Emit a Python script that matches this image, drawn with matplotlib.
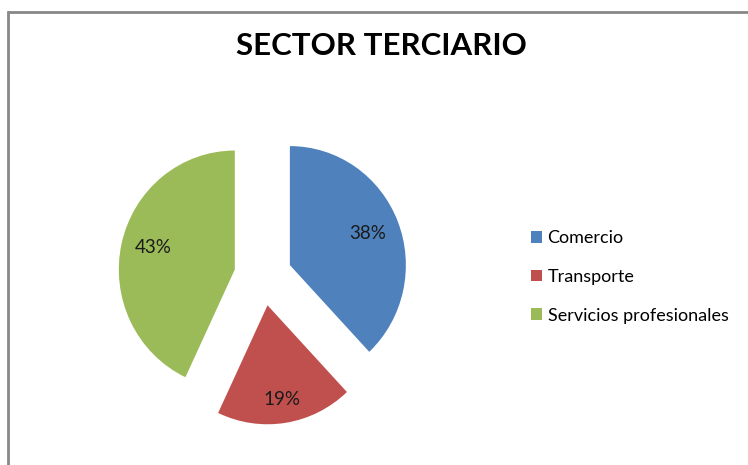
import matplotlib.pyplot as plt
from matplotlib.patches import Rectangle

categories = ['Comercio', 'Transporte', 'Servicios profesionales']
shares = [38, 19, 43]
colors = ['#4F81BD', '#C0504D', '#9BBB59']
title = 'SECTOR TERCIARIO'

W, H = 748, 465
fig = plt.figure(figsize=(W / 100, H / 100), dpi=100)
font = ['Lato', 'DejaVu Sans']

# chart frame (runs off the right and bottom of the picture)
fig.patches.append(Rectangle((8 / W, -0.1), 1.2, (H - 12) / H + 0.1,
                             transform=fig.transFigure, fill=False,
                             edgecolor='#888888', linewidth=2))

# pie axes: centre at (263, 276) px; the original is a touch taller than wide
cx, cy, box = 263, 276, 300
ax = fig.add_axes([(cx - box / 2) / W, (H - cy - box / 2) / H, box / W, box / H])

wedges, texts, autotexts = ax.pie(
    shares, colors=colors, startangle=90, counterclock=False,
    explode=[0.249] * 3, autopct='%1.0f%%', pctdistance=0.72,
    textprops=dict(family=font, fontsize=13.5, color='#1a1a1a'))
# Excel puts the small slice's label a bit further out
x, y = autotexts[1].get_position()
autotexts[1].set_position((x * 1.08, y * 1.08))
x, y = autotexts[2].get_position()
autotexts[2].set_position((x, y + 0.03))

ax.set_aspect('auto')
ax.set_xlim(-box / 2 / 116, box / 2 / 116)
ax.set_ylim(-box / 2 / 119, box / 2 / 119)
ax.axis('off')

fig.text(381 / W, 1 - 46 / H, title, ha='center', va='center',
         family=font, fontweight='bold', fontsize=22.5)

leg = fig.legend(wedges, categories, loc='center left',
                 bbox_to_anchor=(515 / W, 1 - 277 / H), frameon=False,
                 prop=dict(family=font, size=13),
                 handlelength=0.6, handleheight=0.6, handletextpad=0.3,
                 labelspacing=1.25)

fig.savefig('out.png', dpi=100)
